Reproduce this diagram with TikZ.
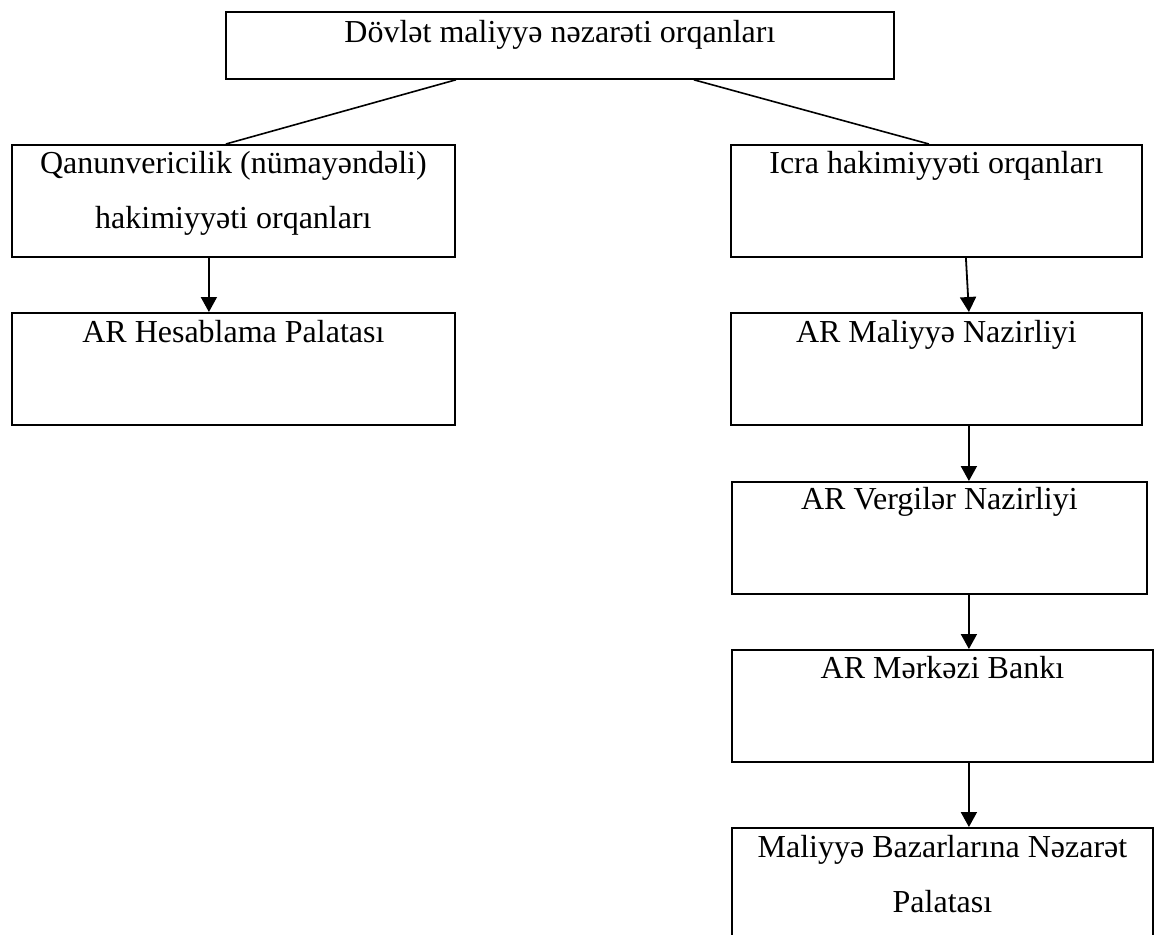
\documentclass[tikz,border=0pt]{standalone}
\usepackage{fontspec}
\setmainfont{Liberation Serif}
\usepackage{tikz}
\usetikzlibrary{arrows.meta}
\usetikzlibrary{positioning}
\tikzset{>={Triangle[width=8pt,length=7.5pt]}}
\tikzstyle{organ}=[
  draw,
  rectangle,
  line width=0.9pt,
  anchor=north west,
  inner sep=0pt,
  align=center,
  font=\fontsize{16}{27.5}\selectfont
]
\tikzstyle{link}=[line width=0.8pt]
\tikzstyle{sub}=[line width=0.9pt,->]

\begin{document}
\begin{tikzpicture}[x=0.5pt,y=-0.5pt]
    \useasboundingbox (0,0) rectangle (1159,934);
    \clip (0,0) rectangle (1159,934);

    \node[organ, minimum width=334pt, text height=15.5pt, text depth=18pt]
      (state) at (225,11) {Dövlət maliyyə nəzarəti orqanları};

    % legislative side
    \node[organ, minimum width=221.5pt, text height=42pt, text depth=14pt]
      (legis) at (11,144) {Qanunvericilik (nümayəndəli)\\hakimiyyəti orqanları};
    \node[organ, minimum width=221.5pt, text height=15pt, text depth=41pt]
      (audit) at (11,312) {AR Hesablama Palatası};

    % executive side
    \node[organ, minimum width=205.5pt, text height=14.5pt, text depth=41.5pt]
      (exec) at (730,144) {Icra hakimiyyəti orqanları};
    \node[organ, minimum width=205.5pt, text height=15pt, text depth=41pt]
      (finance) at (730,312) {AR Maliyyə Nazirliyi};
    \node[organ, minimum width=207.5pt, text height=14pt, text depth=42pt]
      (taxes) at (731,481) {AR Vergilər Nazirliyi};
    \node[organ, minimum width=210.5pt, text height=14.5pt, text depth=41.5pt]
      (cbank) at (731,649) {AR Mərkəzi Bankı};
    \node[organ, minimum width=210.5pt, text height=42.5pt, text depth=19pt]
      (markets) at (731,827) {Maliyyə Bazarlarına Nəzarət\\Palatası};

    \draw[link] ([xshift=-52pt]state.south) -- ([xshift=-3.75pt]legis.north);
    \draw[link] ([xshift=67pt]state.south) -- ([xshift=-3.75pt]exec.north);

    \draw[sub] ([xshift=-12.25pt]legis.south) -- ([xshift=-12.25pt]audit.north);
    \draw[sub] ([xshift=14.75pt]exec.south) -- ([xshift=16.25pt]finance.north);
    \draw[sub] ([xshift=16.25pt]finance.south) -- ([xshift=14.75pt]taxes.north);
    \draw[sub] ([xshift=14.75pt]taxes.south) -- ([xshift=13.25pt]cbank.north);
    \draw[sub] ([xshift=13.25pt]cbank.south) -- ([xshift=13.25pt]markets.north); % last box runs off the page
\end{tikzpicture}
\end{document}
